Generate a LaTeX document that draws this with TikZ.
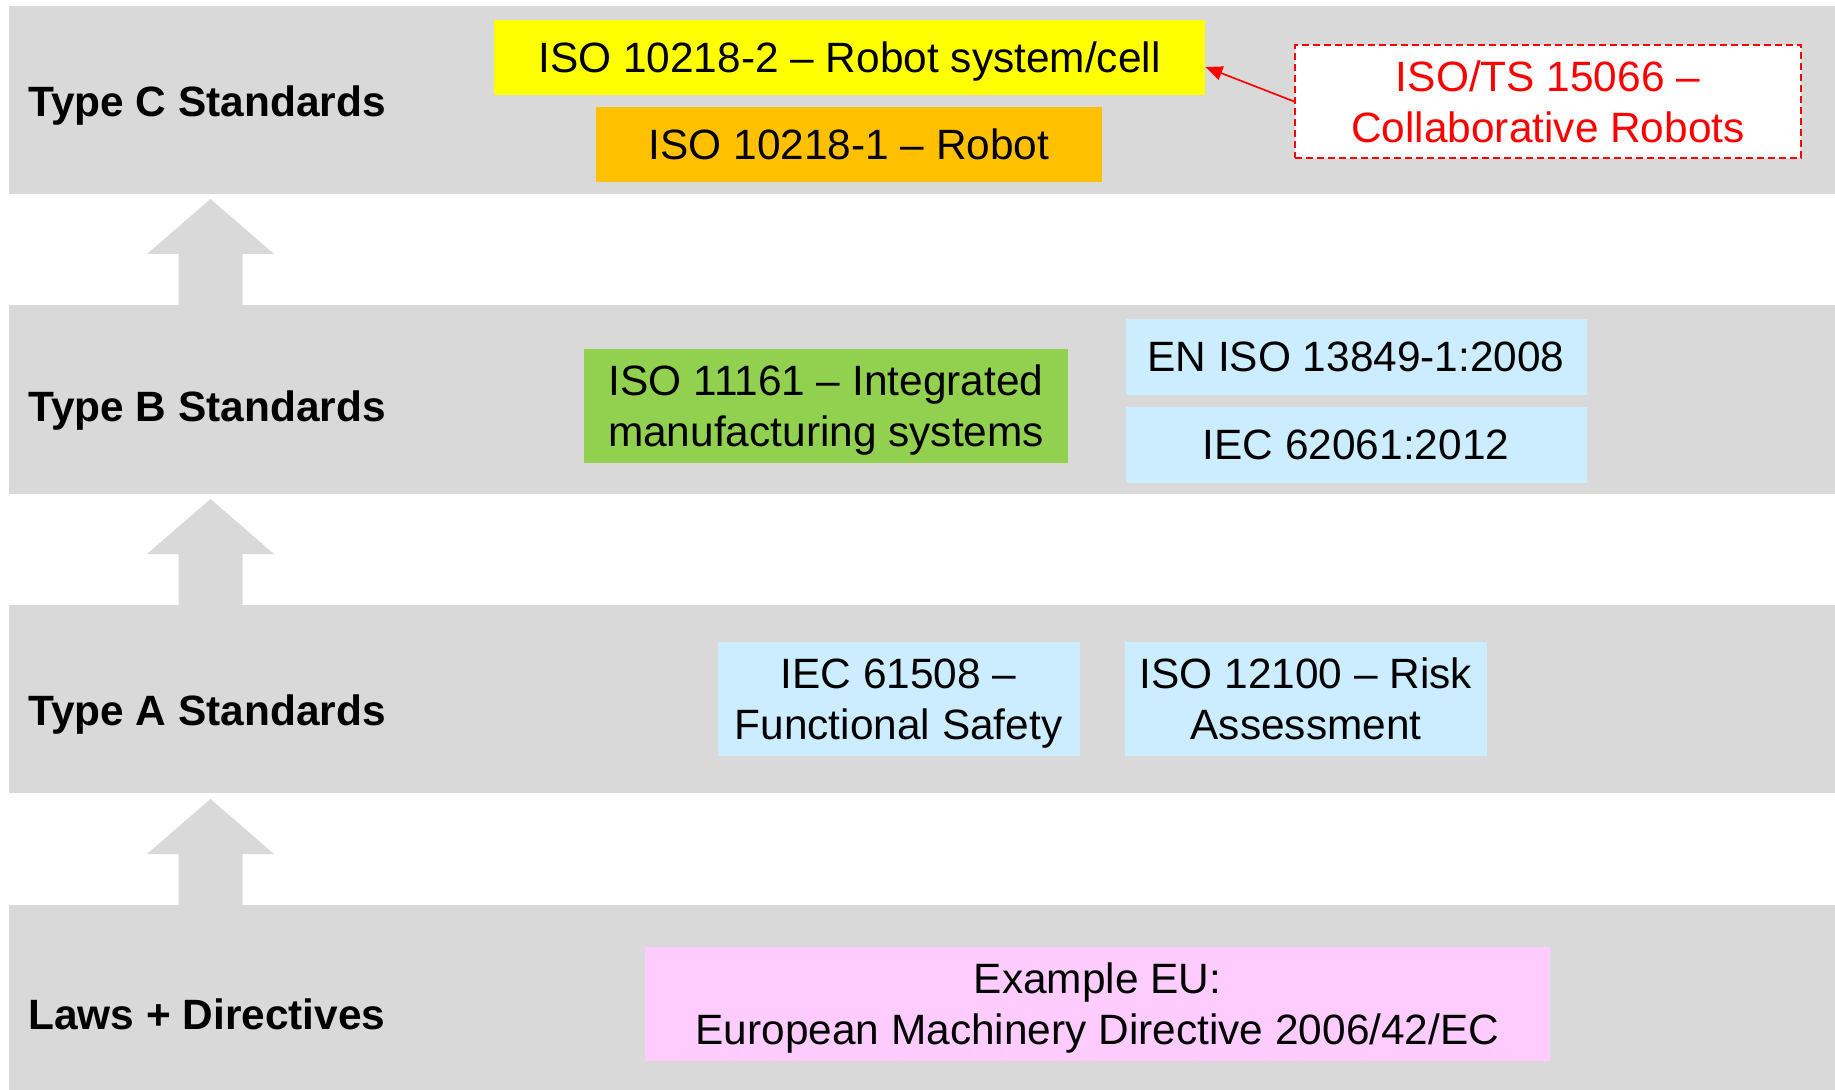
\documentclass[tikz,border=0pt]{standalone}
\usepackage{fontspec}
\setmainfont{Liberation Sans}
\usetikzlibrary{arrows.meta,calc}

\definecolor{bandgray}{HTML}{D9D9D9}
\definecolor{stdyellow}{HTML}{FFFF00}
\definecolor{stdorange}{HTML}{FFC000}
\definecolor{stdgreen}{HTML}{92D050}
\definecolor{stdblue}{HTML}{CCECFF}
\definecolor{stdpink}{HTML}{FFCCFF}
\definecolor{tsred}{HTML}{FF0000}

\tikzset{
  band/.style={fill=bandgray, draw=none, inner sep=0pt, anchor=north west,
    minimum width=913pt},
  bandlabel/.style={anchor=base west, inner sep=0pt,
    font=\fontsize{21.2pt}{25.5pt}\selectfont\bfseries},
  stdbox/.style={draw=none, inner sep=0pt, align=center, text depth=0pt,
    font=\fontsize{21.2pt}{25.5pt}\selectfont},
  tsbox/.style={stdbox, fill=white, draw=tsred, line width=0.8pt,
    dash pattern=on 3.5pt off 2pt, text=tsred},
  levelarrow/.pic={
    \fill[bandgray] (-32,2) -- (-32,-51) -- (-63.5,-51) -- (0,-106)
      -- (63.5,-51) -- (32,-51) -- (32,2) -- cycle;
  }
}

\begin{document}
\begin{tikzpicture}[x=0.5pt, y=-0.5pt]
  \useasboundingbox[fill=white] (0,0) rectangle (1835,1090);

  % the four levels
  \node[band, minimum height=94pt]   (bandC) at (9,6)   {};
  \node[band, minimum height=94.5pt] (bandB) at (9,305) {};
  \node[band, minimum height=94pt]   (bandA) at (9,605) {};
  \node[band, minimum height=92.5pt] (bandL) at (9,905) {};

  % block arrows between levels
  \pic at (210.5,305) {levelarrow};
  \pic at (210.5,605) {levelarrow};
  \pic at (210.5,905) {levelarrow};

  % level titles
  \node[bandlabel] (labC) at (28,117)  {Type C Standards};
  \node[bandlabel] (labB) at (28,422)  {Type B Standards};
  \node[bandlabel] (labA) at (28,725)  {Type A Standards};
  \node[bandlabel] (labL) at (28,1029) {Laws + Directives};

  % Type C
  \node[stdbox, fill=stdyellow, minimum width=355.5pt, minimum height=37.5pt]
    (iso2) at (849.5,57.5) {ISO 10218-2 – Robot system/cell};
  \node[stdbox, fill=stdorange, minimum width=253pt, minimum height=37.5pt]
    (iso1) at (849,144.5) {ISO 10218-1 – Robot};
  \node[tsbox, minimum width=253pt, minimum height=56.5pt]
    (ts) at (1548,101.5) {ISO/TS 15066 –\\Collaborative Robots};
  \coordinate (iso2in) at ($(iso2.east)+(0,9.5)$);
  \draw[tsred, line width=0.85pt, -{Triangle[length=8.5pt,width=7pt]}]
    (ts.west) -- (iso2in);

  % Type B
  \node[stdbox, fill=stdgreen, minimum width=242pt, minimum height=57pt]
    (ims) at (826,406) {ISO 11161 – Integrated\\manufacturing systems};
  \node[stdbox, fill=stdblue, minimum width=230.5pt, minimum height=38pt]
    (en) at (1356,357) {EN ISO 13849-1:2008};
  \node[stdbox, fill=stdblue, minimum width=230.5pt, minimum height=38pt]
    (iec2) at (1356,445) {IEC 62061:2012};

  % Type A
  \node[stdbox, fill=stdblue, minimum width=181pt, minimum height=57pt]
    (fs) at (898.5,699) {IEC 61508 –\\Functional Safety};
  \node[stdbox, fill=stdblue, minimum width=181pt, minimum height=57pt]
    (risk) at (1306,699) {ISO 12100 – Risk\\Assessment};

  % Laws + Directives
  \node[stdbox, fill=stdpink, minimum width=452.5pt, minimum height=57pt]
    (eu) at (1097.5,1004) {Example EU:\\European Machinery Directive 2006/42/EC};
\end{tikzpicture}
\end{document}
